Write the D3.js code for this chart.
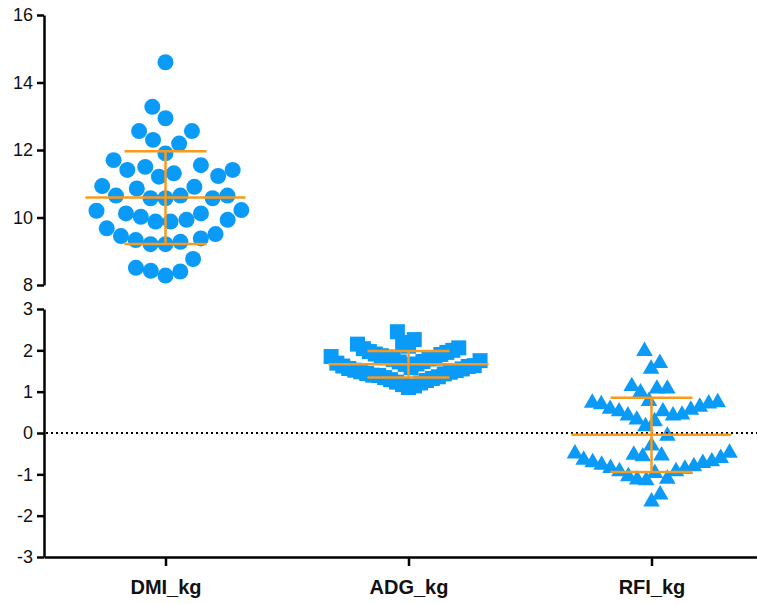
<!DOCTYPE html>
<html>
<head>
<meta charset="utf-8">
<script src="https://cdn.jsdelivr.net/npm/d3@7"></script>
<style>
  body { margin: 0; background: #fff; }
  svg { display: block; }
</style>
</head>
<body>
<svg id="chart" width="757" height="604"></svg>
<script>
// Column categories and per-animal measurements
const categories = ["DMI_kg", "ADG_kg", "RFI_kg"];

const dmiValues = [14.60, 13.28, 12.94, 12.56, 12.56, 12.19, 12.30, 11.90, 11.70, 11.55,
  11.50, 11.41, 11.31, 11.41, 11.23, 11.21, 10.91, 10.86, 10.93, 10.65,
  10.65, 10.57, 10.57, 10.57, 10.65, 10.22, 10.12, 9.93, 10.12, 9.93,
  10.02, 10.20, 9.88, 9.88, 9.68, 9.45, 9.33, 9.21, 9.21, 9.28,
  9.38, 9.51, 8.77, 8.42, 8.28, 8.40, 8.51];

const adgValues = [1.10, 1.14, 1.17, 1.21, 1.23, 1.27, 1.29, 1.32, 1.34, 1.36,
  1.39, 1.40, 1.43, 1.44, 1.47, 1.48, 1.51, 1.52, 1.55, 1.56,
  1.58, 1.61, 1.62, 1.63, 1.66, 1.67, 1.69, 1.72, 1.73, 1.75,
  1.78, 1.79, 1.81, 1.84, 1.85, 1.87, 1.90, 1.91, 1.95, 1.97,
  2.00, 2.04, 2.06, 2.10, 2.15, 2.19, 2.26, 2.45];

const rfiValues = [1.98, 1.69, 1.55, 1.13, 1.07, 0.98, 1.07, 0.74, 0.71, 0.63,
  0.56, 0.52, 0.42, 0.42, 0.73, 0.44, 0.52, 0.58, 0.69, 0.77,
  0.32, 0.16, 0.28, -0.07, -0.31, -0.53, -0.57, -0.61, -0.69, -0.73,
  -0.81, -0.87, -0.93, -0.97, -0.93, -0.85, -0.77, -0.71, -0.65, -0.55,
  -0.50, -0.48, -1.11, -1.13, -1.15, -1.05, -1.66, -1.49];

const upperTicks = [8, 10, 12, 14, 16];
const lowerTicks = [-3, -2, -1, 0, 1, 2, 3];

const BLUE = "#0a9af7";
const ORANGE = "#f99a1c";
const FONT = "'Liberation Sans', Arial, Helvetica, sans-serif";

const svg = d3.select("#chart");

// Scales: one shared x, a broken y made of two linear segments
const x = d3.scalePoint().domain(categories).range([44, 773]).padding(0.5);
const yUpper = d3.scaleLinear().domain([8, 16]).range([285, 15]);
const yLower = d3.scaleLinear().domain([-3, 3]).range([557, 309]);

// sx / sy: horizontal and vertical clearance between neighbouring symbols
const series = [
  { name: "DMI_kg", values: dmiValues, y: yUpper, symbol: d3.symbolCircle, size: 201, sx: 15, sy: 24 },
  { name: "ADG_kg", values: adgValues, y: yLower, symbol: d3.symbolSquare, size: 225, sx: 6, sy: 22 },
  { name: "RFI_kg", values: rfiValues, y: yLower, symbol: d3.symbolTriangle, size: 120, sx: 9, sy: 26 }
];

// Greedy column-scatter layout: points placed in ascending order at the
// horizontal offset nearest the column centre that clears an ellipse
// of half-axes (sx, sy) around every point already placed.
function swarm(values, y, sx, sy) {
  const pts = values.map(v => ({ v, py: y(v) })).sort((a, b) => a.v - b.v);
  const placed = [];
  let side = 1;
  for (const p of pts) {
    const near = placed.filter(q => Math.abs(q.py - p.py) < sy);
    const cands = [0];
    for (const q of near) {
      const t = (q.py - p.py) / sy;
      const dx = sx * Math.sqrt(1 - t * t);
      cands.push(q.dx + dx, q.dx - dx);
    }
    const ok = cands.filter(c => near.every(q => {
      const u = (q.dx - c) / sx, t = (q.py - p.py) / sy;
      return u * u + t * t >= 1 - 1e-6;
    }));
    const minAbs = d3.min(ok, c => Math.abs(c));
    const best = ok.filter(c => Math.abs(c) - minAbs < 0.01);
    let chosen = best.find(c => Math.sign(c) === side);
    if (chosen === undefined) chosen = best[0];
    if (Math.abs(chosen) > 0.01) side = -Math.sign(chosen);
    p.dx = chosen;
    placed.push(p);
  }
  return placed;
}

// Upper y axis segment
const axUpper = svg.append("g")
  .attr("transform", "translate(44,0)")
  .call(d3.axisLeft(yUpper).tickValues(upperTicks).tickSize(7).tickSizeOuter(0).tickPadding(4).tickFormat(d => String(d)));

// Lower y axis segment
const axLower = svg.append("g")
  .attr("transform", "translate(44,0)")
  .call(d3.axisLeft(yLower).tickValues(lowerTicks).tickSize(7).tickSizeOuter(0).tickPadding(4).tickFormat(d => String(d)));

// X axis
const axX = svg.append("g")
  .attr("transform", "translate(0,557)")
  .call(d3.axisBottom(x).tickSize(9).tickSizeOuter(0).tickPadding(14));

[axUpper, axLower, axX].forEach(g => {
  g.select(".domain").attr("stroke", "#000").attr("stroke-width", 2.5);
  g.selectAll(".tick line").attr("stroke", "#000").attr("stroke-width", 2.5);
});
[axUpper, axLower].forEach(g => {
  g.selectAll(".tick text").attr("font-family", FONT).attr("font-size", 18).attr("fill", "#111");
});
axX.selectAll(".tick text")
  .attr("font-family", FONT).attr("font-size", 20).attr("font-weight", "bold").attr("fill", "#111");

// Data points
series.forEach(s => {
  const pts = swarm(s.values, s.y, s.sx, s.sy);
  const cx = x(s.name);
  svg.append("g")
    .selectAll("path")
    .data(pts)
    .join("path")
    .attr("d", d3.symbol().type(s.symbol).size(s.size))
    .attr("transform", d => `translate(${cx + d.dx},${d.py})`)
    .attr("fill", BLUE);
});

// Zero reference line
svg.append("line")
  .attr("x1", 46).attr("x2", 757)
  .attr("y1", yLower(0)).attr("y2", yLower(0))
  .attr("stroke", "#000").attr("stroke-width", 2)
  .attr("stroke-dasharray", "2,3");

// Mean and SD bars
series.forEach(s => {
  const m = d3.mean(s.values);
  const sd = d3.deviation(s.values);
  const cx = x(s.name);
  const g = svg.append("g").attr("stroke", ORANGE).attr("stroke-width", 2.5).attr("fill", "none");
  g.append("line").attr("x1", cx - 80).attr("x2", cx + 80).attr("y1", s.y(m)).attr("y2", s.y(m));
  g.append("line").attr("x1", cx).attr("x2", cx).attr("y1", s.y(m - sd)).attr("y2", s.y(m + sd));
  g.append("line").attr("x1", cx - 41).attr("x2", cx + 41).attr("y1", s.y(m + sd)).attr("y2", s.y(m + sd));
  g.append("line").attr("x1", cx - 41).attr("x2", cx + 41).attr("y1", s.y(m - sd)).attr("y2", s.y(m - sd));
});
</script>
</body>
</html>
